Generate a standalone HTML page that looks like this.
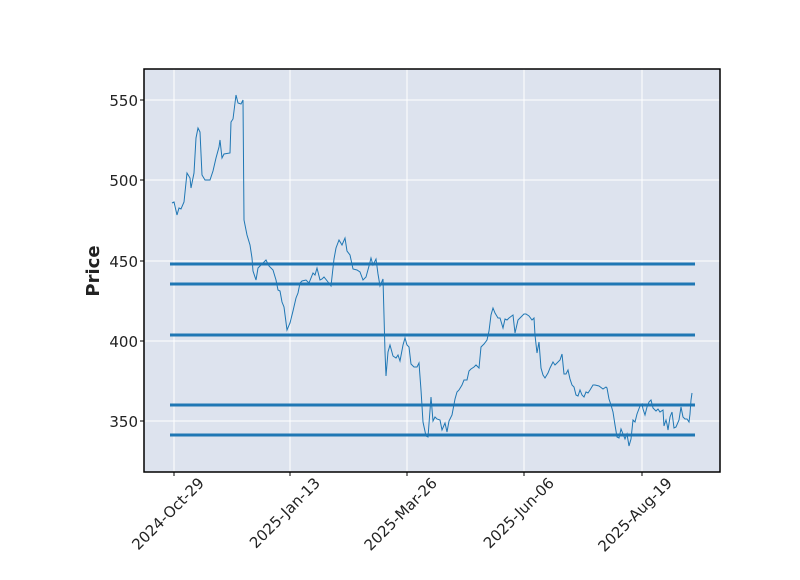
<!DOCTYPE html>
<html><head><meta charset="utf-8"><style>body{margin:0;background:#fff}svg text{font-family:"DejaVu Sans","Liberation Sans",sans-serif}</style></head><body>
<svg width="800" height="575" viewBox="0 0 800 575" xmlns="http://www.w3.org/2000/svg">
<rect x="144" y="69" width="576" height="403" fill="#dde3ee"/>
<g stroke="#fff" stroke-width="1">
<line x1="174" y1="69" x2="174" y2="472"/><line x1="290" y1="69" x2="290" y2="472"/><line x1="407" y1="69" x2="407" y2="472"/><line x1="524" y1="69" x2="524" y2="472"/><line x1="642" y1="69" x2="642" y2="472"/>
<line x1="144" y1="100" x2="720" y2="100"/><line x1="144" y1="180" x2="720" y2="180"/><line x1="144" y1="261" x2="720" y2="261"/><line x1="144" y1="341" x2="720" y2="341"/><line x1="144" y1="421" x2="720" y2="421"/>
</g>
<g stroke="#1f77b4" stroke-width="3">
<line x1="170" y1="264" x2="695" y2="264"/><line x1="170" y1="284" x2="695" y2="284"/><line x1="170" y1="335" x2="695" y2="335"/><line x1="170" y1="405" x2="695" y2="405"/><line x1="170" y1="435" x2="695" y2="435"/>
</g>
<polyline fill="none" stroke="#1f77b4" stroke-width="1" points="172,203 174,202 177,215 179,208 181,209 184,202 187,173 190,178 191,188 194,173 196,138 198,128 200,132 202,175 205,180 210,180 213,171 216,158 219,147 220,140 222,158 224,154 230,153 231,122 233,119 236,95 238,103 241,104 243,100 244,220 247,235 250,245 252,258 253,271 256,280 258,268 264,262 266,260 269,266 273,270 276,280 278,290 280,291 282,302 284,307 287,330 290,323 293,311 296,298 298,293 300,283 302,281 306,280 309,283 313,273 315,275 317,268 320,280 322,279 324,277 328,282 331,286 334,259 336,248 339,240 342,245 345,238 347,251 350,255 353,269 357,270 360,272 363,280 366,277 369,266 371,258 373,265 376,259 378,274 380,286 383,279 385,352 386,376 388,352 390,345 393,356 396,358 398,355 400,361 403,345 405,338 407,345 409,347 411,364 414,367 417,367 419,363 421,390 423,422 426,436 428,437 431,397 433,421 435,417 437,419 440,420 442,430 445,423 447,432 449,421 452,415 455,399 457,392 459,390 462,385 464,380 467,380 469,371 471,369 474,367 476,365 479,368 481,347 484,344 487,340 489,331 491,315 493,308 495,313 498,318 500,318 503,328 505,319 507,320 509,318 513,315 515,333 518,320 521,317 524,314 526,314 529,316 532,320 534,318 535,335 537,353 539,342 541,368 543,375 545,378 548,373 550,368 553,362 555,365 557,363 560,360 562,354 564,374 566,374 568,370 570,379 572,385 574,387 576,395 578,396 580,390 582,395 584,397 586,392 588,393 590,390 593,385 595,385 599,386 603,389 606,387 607,388 609,399 611,405 613,412 615,425 617,437 619,438 621,429 623,434 625,439 627,434 628,440 629,446 631,439 633,420 635,422 637,414 640,406 642,404 643,409 645,415 647,407 649,402 651,400 653,408 656,411 658,409 660,412 663,410 664,426 666,420 667,424 668,430 670,417 672,412 674,428 676,427 679,420 681,407 683,417 685,419 687,419 689,422 690,414 691,400 692,393"/>
<rect x="144" y="69" width="576" height="403" fill="none" stroke="#000" stroke-width="1.5"/>
<g stroke="#000" stroke-width="1">
<line x1="140" y1="100" x2="144" y2="100"/><line x1="140" y1="180" x2="144" y2="180"/><line x1="140" y1="261" x2="144" y2="261"/><line x1="140" y1="341" x2="144" y2="341"/><line x1="140" y1="421" x2="144" y2="421"/>
<line x1="174" y1="472" x2="174" y2="476"/><line x1="290" y1="472" x2="290" y2="476"/><line x1="407" y1="472" x2="407" y2="476"/><line x1="524" y1="472" x2="524" y2="476"/><line x1="642" y1="472" x2="642" y2="476"/>
</g>
<g font-size="15" fill="#222" text-anchor="end">
<text x="138" y="106">550</text><text x="138" y="186">500</text><text x="138" y="267">450</text><text x="138" y="347">400</text><text x="138" y="427">350</text>
<text transform="translate(205,484) rotate(-45)">2024-Oct-29</text>
<text transform="translate(321,484) rotate(-45)">2025-Jan-13</text>
<text transform="translate(438,484) rotate(-45)">2025-Mar-26</text>
<text transform="translate(555,484) rotate(-45)">2025-Jun-06</text>
<text transform="translate(673,484) rotate(-45)">2025-Aug-19</text>
</g>
<text transform="translate(99,271) rotate(-90)" font-size="18" font-weight="bold" fill="#222" text-anchor="middle">Price</text>
</svg>
</body></html>
